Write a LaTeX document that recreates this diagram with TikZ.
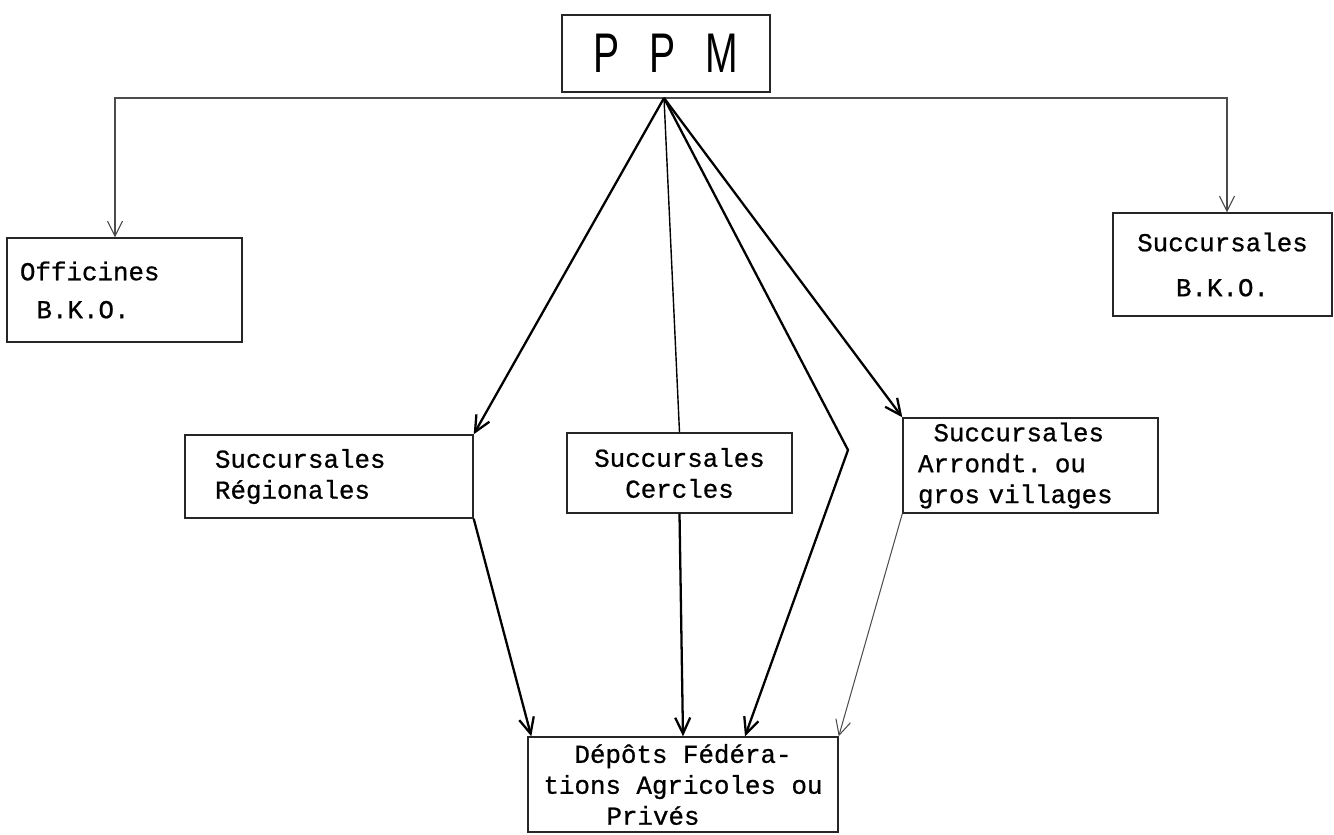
\documentclass[tikz,border=0pt]{standalone}
\usepackage{fontspec}
\setmonofont[FakeBold=0.8]{Liberation Mono}
\newfontfamily\ppmfont[FakeStretch=0.7]{Liberation Sans}
\usetikzlibrary{arrows.meta}
\tikzset{
  box/.style={draw=black!85, line width=0.8pt, inner ysep=2pt,
    font=\ttfamily\fontsize{14.7}{17.6}\selectfont},
  link/.style={line width=1.3pt, -{Straight Barb[length=3.2mm,width=3mm]}},
  faint/.style={line width=0.6pt, black!70, -{Straight Barb[length=3mm,width=3mm]}},
}
\begin{document}
\begin{tikzpicture}
  \useasboundingbox (0,0) rectangle (26.68,-16.68);
  % head box
  \node[box, line width=1.1pt, minimum width=4.16cm, minimum height=1.54cm,
    font=\ppmfont\fontsize{31.8}{34}\selectfont] (ppm) at (13.32,-1.07)
    {P\hspace{17pt}P\hspace{17pt}M};
  % point where all the lines leave
  \coordinate (top) at (13.28,-1.96);
  % the two B.K.O. boxes
  \node[box, minimum width=4.7cm, minimum height=2.08cm, inner xsep=0.26cm,
    text width=4.18cm, align=left] (officines) at (2.49,-5.8)
    {Officines\\[4pt]\hspace*{0.33cm}B.K.O.};
  \node[box, minimum width=4.38cm, minimum height=2.06cm, align=center]
    (bkor) at (24.45,-5.29) {Succursales\\[8pt]B.K.O.};
  % middle row
  \node[box, minimum width=5.76cm, minimum height=1.66cm, inner xsep=0.6cm,
    text width=4.56cm, align=left] (regio) at (6.58,-9.53)
    {Succursales\\Régionales};
  \node[box, minimum width=4.5cm, minimum height=1.6cm, align=center]
    (cercles) at (13.59,-9.46) {Succursales\\Cercles};
  \node[box, minimum width=5.1cm, minimum height=1.9cm, inner xsep=0.3cm,
    text width=4.5cm, align=left] (arrondt) at (20.61,-9.31)
    {\hspace*{0.31cm}Succursales\\Arrondt. ou\\gros villages};
  % bottom box
  \node[box, minimum width=6.2cm, minimum height=1.9cm, align=center]
    (depots) at (13.66,-15.69)
    {Dépôts Fédéra-\\tions Agricoles ou\\Privés\hspace*{1.2cm}};
  % horizontal line out to the B.K.O. boxes
  \draw[faint] (top) -| ([xshift=-0.19cm]officines.north);
  \draw[faint] (top) -| ([xshift=0.09cm]bkor.north);
  % lines from the head to the middle row
  \draw[link] (top) -- (regio.north east);
  \draw[line width=0.8pt] (top) -- (cercles.north);
  \draw[link] (top) -- (arrondt.north west);
  % line past the middle row
  \coordinate (kink) at (16.96,-9.0);
  \draw[link] (top) -- (kink) -- ([xshift=1.24cm]depots.north);
  % lines down to the bottom box
  \draw[link] (regio.south east) -- ([xshift=0.08cm]depots.north west);
  \draw[link] (cercles.south) -- (depots.north);
  \draw[faint] (arrondt.south west) -- (depots.north east);
\end{tikzpicture}
\end{document}
